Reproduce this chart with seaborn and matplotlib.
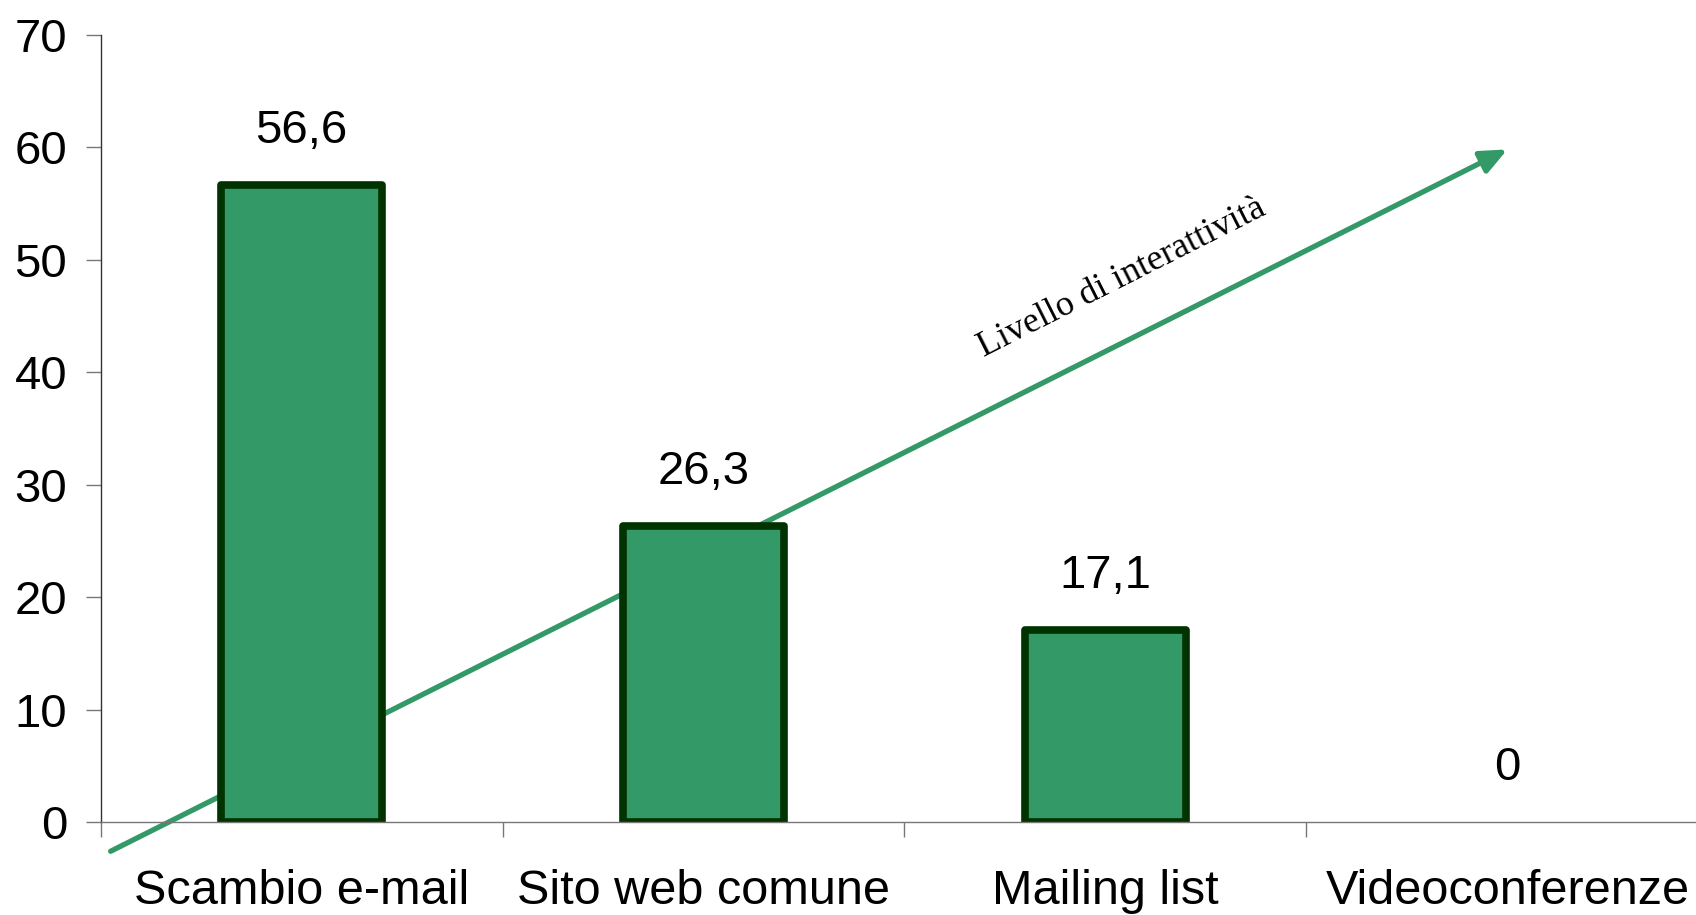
import numpy as np
import seaborn as sns
import matplotlib.pyplot as plt

categorie = ['Scambio e-mail', 'Sito web comune', 'Mailing list', 'Videoconferenze']
valori = [56.6, 26.3, 17.1, 0]
etichette = ['56,6', '26,3', '17,1', '0']
freccia_testo = 'Livello di interattività'

verde = '#339966'
verde_scuro = '#003300'

sns.set_style('white')
plt.rcParams['font.family'] = ['Liberation Sans', 'DejaVu Sans']
plt.rcParams['text.color'] = 'black'
plt.rcParams['xtick.labelcolor'] = 'black'
plt.rcParams['ytick.labelcolor'] = 'black'

fig = plt.figure(figsize=(16.96, 9.15), dpi=100)
ax = fig.add_axes([0.0593, 0.1016, 0.948, 0.8605])

# freccia dietro alle barre
ax.annotate('', xy=(3.0, 59.8), xytext=(-0.475, -2.6),
            arrowprops=dict(arrowstyle='-|>,head_length=1.6,head_width=0.7',
                            color=verde, lw=3.8, shrinkA=0, shrinkB=0),
            annotation_clip=False, zorder=1)

sns.barplot(x=categorie, y=valori, color=verde, width=0.4,
            edgecolor=verde_scuro, linewidth=5.5, saturation=1, ax=ax, zorder=2)
for p, v in zip(ax.patches, valori):
    p.set_joinstyle('round')
    p.set_facecolor(verde)
    p.set_zorder(2)
    if v == 0:
        p.set_linewidth(0)

for i, (v, t) in enumerate(zip(valori, etichette)):
    ax.text(i, v + 4.8, t, ha='center', va='center', fontsize=34, color='black')

ax.text(2.04, 48.4, freccia_testo, rotation=26.8, rotation_mode='anchor',
        ha='center', va='center', fontsize=26, family=['Liberation Serif'])

ax.set_xlim(-0.5, 3.5)
ax.set_ylim(0, 70)
ax.set_yticks(range(0, 71, 10))
ax.tick_params(axis='y', labelsize=34, length=11, width=1, color='#777777', pad=13,
               left=True)

ax.set_xticks([-0.5, 0.5, 1.5, 2.5, 3.5])
ax.set_xticklabels([])
ax.tick_params(axis='x', which='major', length=11, width=1, color='#777777',
               bottom=True)
ax.set_xticks(range(len(categorie)), minor=True)
ax.set_xticklabels(categorie, minor=True)
ax.tick_params(axis='x', which='minor', length=0, labelsize=35, pad=34)

for s in ['top', 'right']:
    ax.spines[s].set_visible(False)
ax.spines['left'].set_color('#333333')
ax.spines['left'].set_linewidth(1)
ax.spines['bottom'].set_color('#777777')
ax.spines['bottom'].set_linewidth(1)
ax.set_xlabel('')
ax.set_ylabel('')

fig.savefig('out.png', dpi=100)
